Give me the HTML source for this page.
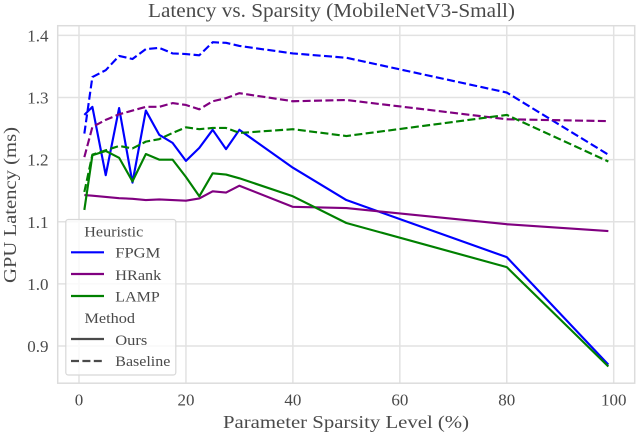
<!DOCTYPE html>
<html lang="en">
<head>
<meta charset="utf-8">
<title>Latency vs. Sparsity (MobileNetV3-Small)</title>
<style>
html,body{margin:0;padding:0;background:#fff;}
svg{display:block;}
text{font-family:"Liberation Serif",serif;fill:#4a4a4a;}
</style>
</head>
<body>
<svg id="chart" xmlns="http://www.w3.org/2000/svg" width="636" height="434" viewBox="0 0 636 434">
  <g id="grid"></g>
  <rect x="57.7" y="25.7" width="577" height="357.5" fill="none" stroke="#dcdcdc" stroke-width="1.5"/>
  <g id="xticks"></g>
  <g id="yticks"></g>
  <g id="series"></g>
  <text x="331.5" y="17" font-size="20" text-anchor="middle" textLength="367" lengthAdjust="spacingAndGlyphs">Latency vs. Sparsity (MobileNetV3-Small)</text>
  <text x="346" y="428" font-size="18" text-anchor="middle" textLength="246" lengthAdjust="spacingAndGlyphs">Parameter Sparsity Level (%)</text>
  <text transform="translate(16,205) rotate(-90)" font-size="18" text-anchor="middle" textLength="156" lengthAdjust="spacingAndGlyphs">GPU Latency (ms)</text>
  <g>
    <rect x="65.8" y="219.5" width="110" height="155.5" rx="2.5" fill="#fff" fill-opacity="0.8" stroke="#d8d8d8" stroke-width="1.2"/>
    <text x="84.3" y="236.7" font-size="15" textLength="59" lengthAdjust="spacingAndGlyphs">Heuristic</text>
    <line x1="71" x2="104" y1="252.3" y2="252.3" stroke="#0000ff" stroke-width="2.15"/>
    <text x="115.3" y="257.7" font-size="15" textLength="45" lengthAdjust="spacingAndGlyphs">FPGM</text>
    <line x1="71" x2="104" y1="274" y2="274" stroke="#800080" stroke-width="2.15"/>
    <text x="115.3" y="280" font-size="15" textLength="46" lengthAdjust="spacingAndGlyphs">HRank</text>
    <line x1="71" x2="104" y1="296" y2="296" stroke="#008000" stroke-width="2.15"/>
    <text x="115.3" y="301.3" font-size="15" textLength="44.5" lengthAdjust="spacingAndGlyphs">LAMP</text>
    <text x="84.5" y="323" font-size="15" textLength="50.5" lengthAdjust="spacingAndGlyphs">Method</text>
    <line x1="71" x2="104" y1="339" y2="339" stroke="#4a4a4a" stroke-width="2.15"/>
    <text x="115.3" y="345" font-size="15" textLength="32" lengthAdjust="spacingAndGlyphs">Ours</text>
    <line x1="71" x2="104" y1="361" y2="361" stroke="#4a4a4a" stroke-width="2.15" stroke-dasharray="8 3.4"/>
    <text x="115.3" y="365.8" font-size="15" textLength="55" lengthAdjust="spacingAndGlyphs">Baseline</text>
  </g>
</svg>
<script>
const xTickLabels = [0, 20, 40, 60, 80, 100];
const yTickLabels = ['0.9', '1.0', '1.1', '1.2', '1.3', '1.4'];
const sparsity = [1, 2.5, 5, 7.5, 10, 12.5, 15, 17.5, 20, 22.5, 25, 27.5, 30, 40, 50, 80, 99];
const fpgmOurs = [1.272, 1.285, 1.175, 1.283, 1.163, 1.279, 1.24, 1.227, 1.198, 1.219, 1.248, 1.217, 1.248, 1.187, 1.135, 1.043, 0.87];
const fpgmBaseline = [1.242, 1.333, 1.344, 1.367, 1.362, 1.378, 1.38, 1.371, 1.37, 1.368, 1.389, 1.388, 1.383, 1.371, 1.364, 1.308, 1.208];
const hrankOurs = [1.143, 1.142, 1.14, 1.138, 1.137, 1.135, 1.136, 1.135, 1.134, 1.1375, 1.149, 1.147, 1.158, 1.124, 1.122, 1.096, 1.085];
const hrankBaseline = [1.204, 1.2525, 1.264, 1.273, 1.279, 1.285, 1.285, 1.291, 1.288, 1.281, 1.294, 1.299, 1.307, 1.294, 1.296, 1.265, 1.262];
const lampOurs = [1.119, 1.207, 1.214, 1.203, 1.165, 1.209, 1.2, 1.2, 1.172, 1.141, 1.178, 1.176, 1.17, 1.141, 1.098, 1.027, 0.867];
const lampBaseline = [1.148, 1.208, 1.215, 1.222, 1.218, 1.229, 1.233, 1.243, 1.252, 1.249, 1.251, 1.251, 1.243, 1.249, 1.238, 1.272, 1.197];

const SVG_NS = 'http://www.w3.org/2000/svg';
function xScale(v) { return 79 + v * 5.347; }
function yScale(v) { return 35.4 + (1.4 - v) * 621.2; }

function make(tag, attrs, parent) {
  const el = document.createElementNS(SVG_NS, tag);
  for (const k in attrs) el.setAttribute(k, attrs[k]);
  parent.appendChild(el);
  return el;
}

const gridGroup = document.getElementById('grid');
const xGroup = document.getElementById('xticks');
const yGroup = document.getElementById('yticks');
const seriesGroup = document.getElementById('series');

xTickLabels.forEach(function (t) {
  const gl = make('line', { x1: xScale(t), x2: xScale(t), y1: 25.7, y2: 383.2, stroke: '#e2e2e2', 'stroke-width': 1.5 }, gridGroup);
  
  
  const tx = make('text', { x: xScale(t), y: 405.5, 'font-size': 17, 'text-anchor': 'middle' }, xGroup);
  
  
  tx.textContent = String(t);
});

yTickLabels.forEach(function (t) {
  const v = parseFloat(t);
  const gl = make('line', { x1: 57.7, x2: 634.7, y1: yScale(v), y2: yScale(v), stroke: '#e2e2e2', 'stroke-width': 1.5 }, gridGroup);
  
  
  const tx = make('text', { x: 48.5, y: yScale(v) + 6, 'font-size': 17, 'text-anchor': 'end' }, yGroup);
  
  
  tx.textContent = t;
});

function drawLine(values, color, dashed, name) {
  const pts = values.map(function (v, i) { return xScale(sparsity[i]).toFixed(2) + ',' + yScale(v).toFixed(2); }).join(' ');
  const attrs = { points: pts, fill: 'none', stroke: color, 'stroke-width': 2.15, 'stroke-linejoin': 'round' };
  if (dashed) attrs['stroke-dasharray'] = '8 3.4';
  const el = make('polyline', attrs, seriesGroup);
  
  
}

drawLine(fpgmOurs, '#0000ff', false, 'line-fpgm-ours');
drawLine(hrankOurs, '#800080', false, 'line-hrank-ours');
drawLine(lampOurs, '#008000', false, 'line-lamp-ours');
drawLine(fpgmBaseline, '#0000ff', true, 'line-fpgm-baseline');
drawLine(hrankBaseline, '#800080', true, 'line-hrank-baseline');
drawLine(lampBaseline, '#008000', true, 'line-lamp-baseline');
</script>
</body>
</html>
